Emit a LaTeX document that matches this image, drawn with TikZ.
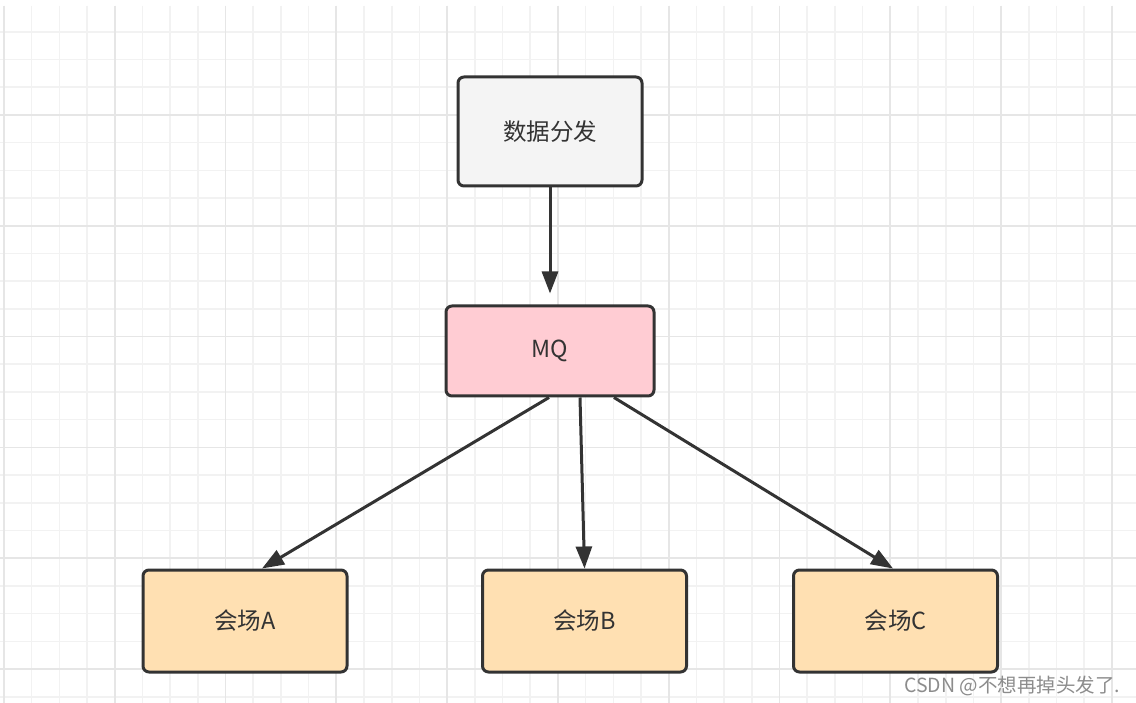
\documentclass[tikz,border=0pt]{standalone}
\usepackage{fontspec}
\setmainfont{Noto Sans CJK SC}
\usetikzlibrary{arrows.meta,calc}
\definecolor{edge}{HTML}{333333}
\definecolor{gridminor}{HTML}{F2F2F2}
\definecolor{gridmajor}{HTML}{E6E6E6}
\definecolor{grayfill}{HTML}{F4F4F4}
\definecolor{pinkfill}{HTML}{FFCCD3}
\definecolor{orangefill}{HTML}{FFE0B2}
\definecolor{marktext}{HTML}{8C8C8C}
\tikzset{
  box/.style={draw=edge, line width=3pt, rounded corners=6pt, text=edge,
    font=\fontsize{23.5}{26}\selectfont, inner sep=0pt},
  link/.style={draw=edge, line width=3pt, -{Triangle[length=22pt,width=16pt]}},
}
\begin{document}
\begin{tikzpicture}[x=1pt,y=-1pt]
\fill[white] (0,0) rectangle (1136,703);
\useasboundingbox (0,0) rectangle (1136,703);
\begin{scope}
\clip (0,6) rectangle (1136,703);
\foreach \i in {0,...,41} {
  \draw[gridminor, line width=1.6pt] ({3.9+27.7*\i},6) -- ({3.9+27.7*\i},703);
}
\foreach \j in {0,...,25} {
  \draw[gridminor, line width=1.6pt] (0,{4.2+27.7*\j}) -- (1136,{4.2+27.7*\j});
}
\foreach \i in {0,...,10} {
  \draw[gridmajor, line width=1.8pt] ({3.9+110.8*\i},6) -- ({3.9+110.8*\i},703);
}
\foreach \j in {0,...,6} {
  \draw[gridmajor, line width=1.8pt] (0,{4.2+110.8*\j}) -- (1136,{4.2+110.8*\j});
}
\end{scope}

\node[box, fill=grayfill, minimum width=184pt, minimum height=109pt] (src) at (550,131.5) {数据分发};
\node[box, fill=pinkfill, minimum width=208pt, minimum height=90pt] (mq) at (550,351) {MQ};
\node[box, fill=orangefill, minimum width=204pt, minimum height=102pt] (a) at (245,621) {会场A};
\node[box, fill=orangefill, minimum width=204pt, minimum height=102pt] (b) at (584.5,621) {会场B};
\node[box, fill=orangefill, minimum width=204pt, minimum height=102pt] (c) at (895.5,621) {会场C};

\draw[link, shorten >=11pt] (src.south) -- (mq.north);
\draw[link] ([xshift=-1pt]mq.south) -- ([xshift=17pt]a.north);
\draw[link] ([xshift=30pt]mq.south) -- (b.north);
\draw[link] ([xshift=64pt]mq.south) -- ([xshift=-2.5pt]c.north);

\node[anchor=base west, text=marktext, font=\fontsize{19.5}{22}\selectfont, inner sep=0pt] (mark) at (904,692) {CSDN @不想再掉头发了.};
\end{tikzpicture}
\end{document}
